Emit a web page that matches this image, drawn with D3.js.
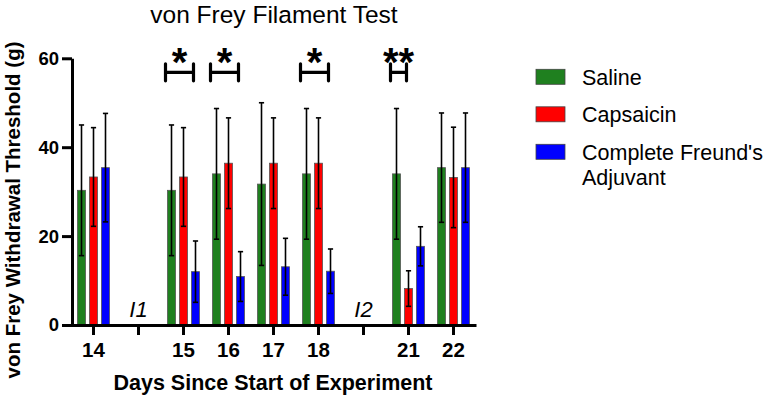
<!DOCTYPE html>
<html>
<head>
<meta charset="utf-8">
<script src="https://cdn.jsdelivr.net/npm/d3@7"></script>
<style>
  html, body { margin: 0; padding: 0; background: #fff; }
  svg { display: block; font-family: "Liberation Sans", Arial, sans-serif; }
</style>
</head>
<body>
<svg id="chart" width="765" height="399"></svg>
<script>
// ---- data ----
const categories = ["14", "I1", "15", "16", "17", "18", "I2", "21", "22"];
const tickLabels = ["14", "", "15", "16", "17", "18", "", "21", "22"];
const injectionLabels = ["I1", "I2"];
const seriesNames = ["Saline", "Capsaicin", "Complete Freund's Adjuvant"];
const salineMean     = [30.3, null, 30.3, 34.0, 31.7, 34.0, null, 34.0, 35.4];
const salineErr      = [14.7, null, 14.7, 14.7, 18.3, 14.7, null, 14.7, 12.3];
const capsaicinMean  = [33.3, null, 33.3, 36.4, 36.4, 36.4, null, 8.2, 33.2];
const capsaicinErr   = [11.1, null, 11.1, 10.2, 10.2, 10.2, null, 4.0, 11.3];
const cfaMean        = [35.4, null, 12.0, 10.9, 13.1, 12.1, null, 17.7, 35.4];
const cfaErr         = [12.2, null, 6.9, 5.6, 6.4, 5.0, null, 4.4, 12.3];
const yTicks = [0, 20, 40, 60];
const sigCats   = ["15", "16", "18", "21"];
const sigFrom   = ["Saline", "Saline", "Saline", "Saline"];
const sigTo     = ["Complete Freund's Adjuvant", "Complete Freund's Adjuvant", "Complete Freund's Adjuvant", "Capsaicin"];
const sigLabels = ["*", "*", "*", "**"];
const colors = ["#1f801f", "#ff0000", "#0000ff"];

const means = [salineMean, capsaicinMean, cfaMean];
const errs = [salineErr, capsaicinErr, cfaErr];

const svg = d3.select("#chart");

const x = d3.scaleBand().domain(categories).range([71, 476]).padding(0);
const xs = d3.scaleBand().domain(seriesNames).range([-16, 16]).paddingInner(1/3).paddingOuter(0);
const y = d3.scaleLinear().domain([0, 60]).range([325, 58.3]);
const color = d3.scaleOrdinal().domain(seriesNames).range(colors);

// rows
const rows = [];
seriesNames.forEach((s, si) => {
  categories.forEach((c, ci) => {
    if (means[si][ci] != null) rows.push({ s, c, v: means[si][ci], e: errs[si][ci] });
  });
});

// bars
svg.append("g").selectAll("rect").data(rows).join("rect")
  .attr("x", d => x(d.c) + x.bandwidth() / 2 + xs(d.s))
  .attr("y", d => y(d.v))
  .attr("width", xs.bandwidth())
  .attr("height", d => y(0) - y(d.v))
  .attr("fill", d => color(d.s))
  .attr("stroke", "#555")
  .attr("stroke-width", 0.8);

// error bars
const eb = svg.append("g").attr("stroke", "#000").attr("stroke-width", 1.6);
rows.forEach(d => {
  const cx = x(d.c) + x.bandwidth() / 2 + xs(d.s) + xs.bandwidth() / 2;
  eb.append("line").attr("x1", cx).attr("x2", cx).attr("y1", y(d.v + d.e)).attr("y2", y(d.v - d.e));
  [d.v + d.e, d.v - d.e].forEach(v => {
    eb.append("line").attr("x1", cx - 2.6).attr("x2", cx + 2.6).attr("y1", y(v)).attr("y2", y(v));
  });
});

// axes
const yAxis = svg.append("g").attr("transform", "translate(72,0)")
  .call(d3.axisLeft(y).tickValues(yTicks).tickSize(10).tickSizeOuter(0).tickPadding(3));
const xAxis = svg.append("g").attr("transform", `translate(0,${y(0)})`)
  .call(d3.axisBottom(x).tickSize(10).tickSizeOuter(0).tickPadding(7)
    .tickFormat((d, i) => tickLabels[i]));
[yAxis, xAxis].forEach(a => {
  a.select(".domain").attr("stroke-width", 3);
  a.selectAll(".tick line").attr("stroke-width", 3);
  a.selectAll("text").attr("font-weight", "bold").attr("fill", "#000")
    .attr("font-family", "Liberation Sans, Arial, sans-serif");
});
yAxis.selectAll("text").attr("font-size", 18.5);
xAxis.selectAll("text").attr("font-size", 20.5);

// injection labels
svg.append("g").selectAll("text").data(injectionLabels).join("text")
  .attr("x", d => x(d) + x.bandwidth() / 2)
  .attr("y", 317)
  .attr("text-anchor", "middle")
  .attr("font-style", "italic")
  .attr("font-size", 22)
  .text(d => d);

// significance brackets
const sg = svg.append("g");
sigCats.forEach((c, i) => {
  const x1 = x(c) + x.bandwidth() / 2 + xs(sigFrom[i]) - 2;
  const x2 = x(c) + x.bandwidth() / 2 + xs(sigTo[i]) + 2;
  const yb = 72.3;
  sg.append("path")
    .attr("d", `M${x1},${yb - 8.5}V${yb + 8.5}M${x1},${yb}H${x2}M${x2},${yb - 8.5}V${yb + 8.5}`)
    .attr("fill", "none").attr("stroke", "#000").attr("stroke-width", 3.2)
    .attr("stroke-linecap", "round");
  sg.append("text")
    .attr("x", (x1 + x2) / 2)
    .attr("y", 76)
    .attr("text-anchor", "middle")
    .attr("font-weight", "bold")
    .attr("font-size", 40)
    .text(sigLabels[i]);
});

// title
svg.append("text").attr("x", 274).attr("y", 22.5).attr("text-anchor", "middle")
  .attr("font-size", 24.5).text("von Frey Filament Test");

// axis titles
svg.append("text").attr("x", 273).attr("y", 390).attr("text-anchor", "middle")
  .attr("font-size", 21.5).attr("font-weight", "bold").text("Days Since Start of Experiment");
svg.append("text").attr("transform", "translate(20,210) rotate(-90)").attr("text-anchor", "middle")
  .attr("font-size", 20.5).attr("font-weight", "bold").text("von Frey Withdrawal Threshold (g)");

// legend
const lg = svg.append("g");
const legendLines = [["Saline"], ["Capsaicin"], ["Complete Freund's", "Adjuvant"]];
seriesNames.forEach((s, i) => {
  const top = 69.3 + i * 37.5;
  lg.append("rect").attr("x", 536).attr("y", top).attr("width", 29).attr("height", 15)
    .attr("fill", color(s)).attr("stroke", "#444").attr("stroke-width", 0.8);
  const t = lg.append("text").attr("x", 582).attr("y", top + 15.2).attr("font-size", 21.5);
  legendLines[i].forEach((ln, j) => {
    t.append("tspan").attr("x", 582).attr("dy", j === 0 ? 0 : 25.5).text(ln);
  });
});
</script>
</body>
</html>
